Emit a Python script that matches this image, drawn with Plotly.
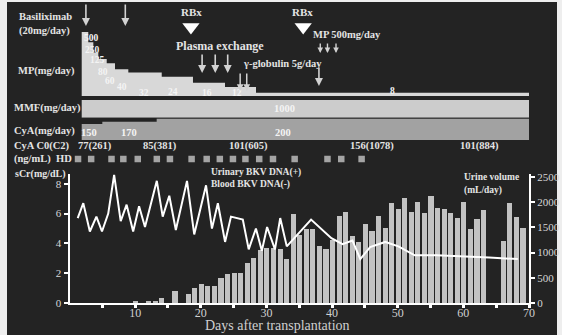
import plotly.graph_objects as go

W, H = 562, 335


def px(x):
    return x / W


def py(y):
    return 1 - y / H


# ---------------- data ----------------
urine_days = [10, 12, 13, 14, 16, 18, 19, 20, 21, 22, 23, 24, 25, 26, 27, 28, 29, 30,
              31, 32, 33, 34, 35, 36, 37, 38, 39, 40, 41, 42, 43, 44, 45, 46, 47, 48,
              49, 50, 51, 52, 53, 54, 55, 56, 57, 58, 59, 60, 61, 62, 63, 66, 67, 68, 69]
urine_ml = [20, 40, 40, 100, 230, 170, 300, 370, 340, 340, 500, 580, 600, 600, 800, 890,
            1060, 1100, 1085, 1070, 870, 1760, 1350, 1460, 1470, 1140, 1065, 1250, 1730,
            1810, 1330, 1220, 1560, 1430, 1730, 1480, 1980, 1860, 2090, 1800, 2010, 1780,
            2130, 1880, 1860, 1780, 1690, 2000, 1470, 1660, 1850, 1230, 1980, 1710, 1480]

scr_days = [1.25, 2.1, 3.1, 4.1, 4.95, 5.9, 6.8, 7.8, 8.7, 9.7, 10.6, 11.5, 13.3, 14.2,
            15.2, 16.2, 17.9, 19.0, 20.8, 21.7, 22.6, 23.7, 24.6, 26.4, 27.3, 28.4, 29.3,
            30.1, 31.3, 32.1, 33.1, 36.8, 39.9, 41.6, 43.1, 44.3, 45.8, 48.1, 50.1, 52.6,
            55.9, 59.9, 63.9, 68.3]
scr_mgdl = [5.7, 6.7, 4.8, 5.8, 4.8, 6.0, 8.6, 5.5, 6.6, 4.8, 6.5, 5.1, 8.2, 5.8, 7.2,
            4.9, 8.2, 4.6, 7.9, 5.0, 6.7, 4.1, 5.8, 5.6, 3.6, 5.0, 3.5, 5.1, 3.6, 5.7, 3.8,
            5.6, 4.35, 3.95, 4.2, 2.95, 3.75, 4.1, 3.8, 3.2, 3.2, 3.15, 3.05, 2.95]

mp_start = [1.86, 2.86, 3.63, 4.39, 5.67, 6.93, 8.96, 14.05, 18.81, 23.69, 28.41]
mp_dose = [500, 250, 125, 80, 60, 40, 32, 24, 16, 12, 8]
mp_end = 70

mmf_start = [1.86]
mmf_dose = [1000]
cya_start = [1.86, 5.0, 13.28]
cya_dose = [150, 170, 200]
regimen_end = 70

hd_days = [1.3, 3.3, 6.4, 8.2, 10.4, 13.3, 15.3, 18.6, 20.9, 22.9, 24.9, 26.8, 28.9,
           31.0, 34.3, 39.3, 41.4, 44.5]

basiliximab_days = [2.5, 8.5]
rbx_days = [18.5, 35.6]
plasma_days = [20.2, 22.2, 24.1]
gamma_days = [26.0, 27.0, 38.0]
mp_pulse_days = [38.2, 39.3, 40.6]

c0_days = [3.9, 13.8, 27.2, 46.1, 62.5]
c0_text = ["77(261)", "85(381)", "101(605)", "156(1078)", "101(884)"]

x_ticks = list(range(5, 75, 5))
x_tick_text = [str(v) if v % 10 == 0 else "" for v in x_ticks]
scr_ticks = [0, 2, 4, 6, 8]
urine_ticks = [0, 500, 1000, 1500, 2000, 2500]

# ---------------- style ----------------
SERIF = "Liberation Serif"
TXT = "#e4e4e4"
BG = "#232323"

fig = go.Figure()

# urine volume bars (base axis, right side)
fig.add_trace(go.Bar(x=urine_days, y=urine_ml, width=0.78, marker=dict(color="#c2c2c2", line=dict(width=0)),
                     xaxis="x", yaxis="y"))
# serum creatinine line (overlaying axis, left side)
fig.add_trace(go.Scatter(x=scr_days, y=scr_mgdl, mode="lines", line=dict(color="white", width=2),
                         xaxis="x", yaxis="y5"))

# MP step area
fig.add_trace(go.Scatter(x=mp_start + [mp_end], y=mp_dose + [mp_dose[-1]], mode="lines",
                         line=dict(width=0, shape="hv", color="#d8d8d8"), fill="tozeroy",
                         fillcolor="#d8d8d8", xaxis="x", yaxis="y2"))
# MMF
fig.add_trace(go.Scatter(x=mmf_start + [regimen_end], y=mmf_dose + [mmf_dose[-1]], mode="lines",
                         line=dict(width=0, shape="hv", color="#cccccc"), fill="tozeroy",
                         fillcolor="#cccccc", xaxis="x", yaxis="y3"))
# CyA
fig.add_trace(go.Scatter(x=cya_start + [regimen_end], y=cya_dose + [cya_dose[-1]], mode="lines",
                         line=dict(width=0, shape="hv", color="#a2a2a2"), fill="tozeroy",
                         fillcolor="#a2a2a2", xaxis="x", yaxis="y4"))

# HD squares and RBx triangles on a pixel overlay axis
fig.add_trace(go.Scatter(x=hd_days, y=[159] * len(hd_days), mode="markers",
                         marker=dict(symbol="square", size=6.5, color="#a4a4a4"),
                         xaxis="x", yaxis="y6", cliponaxis=False))
fig.add_trace(go.Scatter(x=rbx_days, y=[27] * len(rbx_days), mode="markers",
                         marker=dict(symbol="triangle-down", size=15, color="white"),
                         xaxis="x", yaxis="y6", cliponaxis=False))

ann = []


def label(text, x, y, size=10.5, anchor="left", color=TXT):
    ann.append(dict(text=text, x=px(x), y=py(y), xref="paper", yref="paper", showarrow=False,
                    xanchor=anchor, yanchor="middle",
                    font=dict(family=SERIF, size=size, color=color)))


def arrow(day, y_tip, y_tail, width=1.6, head=1.0):
    ann.append(dict(text="", x=day, y=py(y_tip), xref="x", yref="paper", showarrow=True,
                    ax=0, ay=-(y_tip - y_tail), arrowhead=2, arrowsize=head,
                    arrowwidth=width, arrowcolor="#d2d2d2"))


label("<b>Basiliximab</b>", 17, 17, 10.5)
label("<b>(20mg/day)</b>", 17, 31, 10.5)
label("<b>MP(mg/day)</b>", 16, 71, 10.5)
label("<b>MMF(mg/day)</b>", 12, 108, 10.5)
label("<b>CyA(mg/day)</b>", 12, 131, 10.5)
label("<b>CyA C0(C2)</b>", 12, 146, 10.5)
label("<b>(ng/mL)  HD</b>", 12, 159, 10.5)
label("<b>sCr(mg/dL)</b>", 13, 174, 10)
label("<b>Urine volume</b>", 462, 177, 9.5)
label("<b>(mL/day)</b>", 462, 190, 9.5)
label("<b>Urinary BKV DNA(+)</b>", 209, 172, 9.5)
label("<b>Blood BKV DNA(-)</b>", 209, 184, 9.5)
label("Days after transplantation", 277, 325, 14, anchor="center", color="#d0d0d0")

label("<b>RBx</b>", 191, 12, 11, anchor="center")
label("<b>RBx</b>", 302, 12, 11, anchor="center")
label("<b>Plasma exchange</b>", 174, 46, 12)
label("<b>γ-globulin 5g/day</b>", 241, 63, 10.5)
label("<b>MP 500mg/day</b>", 311, 35, 10.5)

# MP dose labels
mp_lab_pos = [(91.5, 38), (92.5, 50), (97.5, 60), (102.5, 72), (110, 81), (121.7, 87),
              (144, 92.5), (173, 92), (206.7, 92.5), (237, 92.5), (392.7, 91)]
for v, (x, y) in zip(mp_dose, mp_lab_pos):
    label("<b>%d</b>" % v, x, y, 9.5, anchor="center", color="#f4f4f4")
label("<b>%d</b>" % mmf_dose[0], 284, 109, 10.5, anchor="center", color="#f4f4f4")
for v, x in zip(cya_dose, [89, 129, 283]):
    label("<b>%d</b>" % v, x, 132, 10.5, anchor="center", color="#f4f4f4")

for d, t in zip(c0_days, c0_text):
    ann.append(dict(text="<b>%s</b>" % t, x=d, y=py(146), xref="x", yref="paper", showarrow=False,
                    xanchor="center", yanchor="middle", font=dict(family=SERIF, size=10.5, color=TXT)))

for d in basiliximab_days:
    arrow(d, 26, 3)
for d in plasma_days:
    arrow(d, 73, 53)
for d in gamma_days[:2]:
    arrow(d, 91, 72, width=1.5, head=0.9)
arrow(gamma_days[2], 86, 66)
for d in mp_pulse_days:
    arrow(d, 53, 42, width=1.4, head=0.8)

fig.update_layout(
    width=W, height=H, margin=dict(l=0, r=0, t=0, b=0),
    paper_bgcolor="#eeeeee", plot_bgcolor="rgba(0,0,0,0)",
    showlegend=False, bargap=0,
    shapes=[dict(type="rect", xref="paper", yref="paper", x0=px(7), x1=px(557), y0=0, y1=py(2),
                 fillcolor=BG, line=dict(width=0), layer="below")],
    annotations=ann,
    xaxis=dict(domain=[px(69.5), px(529)], range=[0, 70], anchor="y",
               showline=True, linecolor="white", linewidth=2, showgrid=False, zeroline=False,
               ticks="outside", ticklen=3, tickwidth=3, tickcolor="white",
               tickvals=x_ticks, ticktext=x_tick_text, ticklabelstandoff=-5,
               tickfont=dict(family=SERIF, size=12, color="#d0d0d0"), automargin=False),
    yaxis=dict(domain=[py(303), py(174)], range=[0, 2560], side="right", anchor="x",
               showline=True, linecolor="white", linewidth=2, showgrid=False, zeroline=False,
               ticks="outside", ticklen=4, tickwidth=2, tickcolor="white",
               tickvals=urine_ticks, tickfont=dict(family=SERIF, size=11, color="#d6d6d6"),
               tickprefix="<b>", ticksuffix="</b>", automargin=False),
    yaxis5=dict(overlaying="y", range=[0, 8.66], side="left", anchor="x",
                showline=True, linecolor="white", linewidth=2, showgrid=False, zeroline=False,
                ticks="outside", ticklen=4, tickwidth=2, tickcolor="white",
                tickvals=scr_ticks, tickfont=dict(family=SERIF, size=11, color="#d6d6d6"),
                tickprefix="<b>", ticksuffix="</b>", automargin=False),
    yaxis2=dict(domain=[py(96), py(28)], type="log", range=[0.81, 2.82], visible=False, anchor="x"),
    yaxis3=dict(domain=[py(117.7), py(100)], range=[0, 1000], visible=False, anchor="x"),
    yaxis4=dict(domain=[py(140), py(118.5)], range=[0, 200], visible=False, anchor="x"),
    yaxis6=dict(domain=[0, 1], range=[H, 0], visible=False, anchor="x"),
)

fig.write_html("out.html", config={"displayModeBar": False},
               post_script="document.body.style.margin='0';document.body.style.padding='0';"
                           "document.body.style.overflow='hidden';")
